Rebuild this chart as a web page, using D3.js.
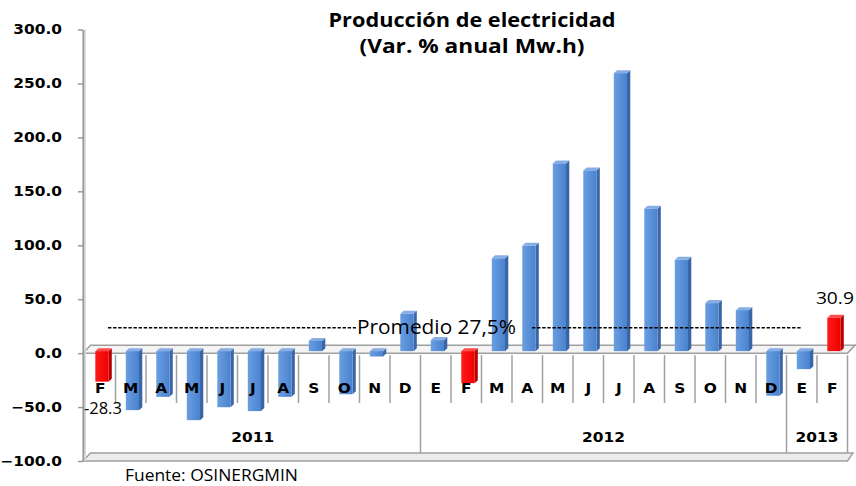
<!DOCTYPE html>
<html><head><meta charset="utf-8">
<script src="https://cdn.jsdelivr.net/npm/d3@7"></script>
<style>body{margin:0;background:#fff}svg{display:block}</style>
</head><body>
<svg id="c" width="856" height="486"></svg>
<script>
// ---- data ----
const months = ["F","M","A","M","J","J","A","S","O","N","D","E","F","M","A","M","J","J","A","S","O","N","D","E","F"];
const values = [-28.3,-54.7,-42.4,-64,-52,-55.6,-42.4,9.5,-40,-5,34.6,10.2,-29.7,86,97.6,174,167.5,257.7,132,84.6,44.5,38,-41.4,-16.7,30.9];
const redIdx = [0,12,24];
const yearLabels = ["2011","2012","2013"];
const yearCounts = [11,12,2];
const yTicks = [-100,-50,0,50,100,150,200,250,300];
const average = 27.5;
const averageLabel = "Promedio 27,5%";
const titleLines = ["Producción de electricidad","(Var. % anual Mw.h)"];
const labelled = [{i:0,text:"-28.3"},{i:24,text:"30.9"}];
const source = "Fuente: OSINERGMIN";

// ---- layout ----
const svg = d3.select("#c");
const SX = 1.1;               // horizontal stretch of the reference
const axisX = 83, plotL = 85, plotR = 847.5;
const y = d3.scaleLinear().domain([-100,300]).range([461,29.5]);
const x = d3.scaleBand().domain(d3.range(months.length)).range([plotL,plotR]).padding(0);
const depthX = 7.5, depthY = 8;     // floor depth
const bDX = 3.3, bDY = 3, bShift = 2; // bar 3D
const barOff = 10.3, barW = 13.2;
const grey = "#a0a0a0";

const defs = svg.append("defs");
const gb = defs.append("linearGradient").attr("id","gBlue");
gb.append("stop").attr("offset","0").attr("stop-color","#6a9ee2");
gb.append("stop").attr("offset","1").attr("stop-color","#4a82cd");
const gr = defs.append("linearGradient").attr("id","gRed");
gr.append("stop").attr("offset","0").attr("stop-color","#ff1a1a");
gr.append("stop").attr("offset","1").attr("stop-color","#f00000");

// title
titleLines.forEach((t,k)=>{
  svg.append("text").attr("x",472).attr("y",27+k*26).attr("text-anchor","middle")
    .attr("font-family","Open Sans").attr("font-weight","bold").attr("font-size",19.5)
    .attr("textLength",k===0?287:225).attr("lengthAdjust","spacingAndGlyphs").text(t);
});

// zero floor (category axis plane)
const y0 = y(0);
svg.append("path").attr("fill","#f4f4f4").attr("stroke",grey).attr("stroke-width",1.5)
  .attr("d",`M${axisX},${y0}L${plotR},${y0}L${plotR+depthX},${y0-depthY}L${axisX+depthX},${y0-depthY}Z`);
svg.append("line").attr("x1",plotR+depthX).attr("x2",856).attr("y1",y0-depthY).attr("y2",y0-depthY).attr("stroke",grey).attr("stroke-width",1.5);

// bottom floor
const yb = y(-100);
svg.append("path").attr("fill","#ececec").attr("stroke",grey).attr("stroke-width",1.5)
  .attr("d",`M${axisX},${yb}L${plotR},${yb}L${plotR+depthX-2},${yb-depthY}L${axisX+depthX},${yb-depthY}Z`);

// category dividers
const yearEdges = [0]; yearCounts.reduce((a,c)=>{yearEdges.push(a+c);return a+c;},0);
d3.range(months.length+1).forEach(i=>{
  const xx = plotL + i*x.bandwidth();
  const isYear = yearEdges.includes(i);
  svg.append("line").attr("x1",xx).attr("x2",xx).attr("y1",y0+2).attr("y2",isYear?yb-depthY:403)
    .attr("stroke",grey).attr("stroke-width",1.5);
});

// y axis
const ax = svg.append("g").attr("transform",`translate(${axisX},0)`)
  .call(d3.axisLeft(y).tickValues(yTicks).tickFormat(d3.format(".1f")).tickSize(5).tickSizeOuter(0));
ax.select(".domain").attr("stroke","#9a9a9a").attr("stroke-width",2.2);
ax.selectAll(".tick line").attr("stroke","#9a9a9a").attr("stroke-width",1.5);
ax.selectAll(".tick text").attr("x",-21/SX).attr("transform",`scale(${SX},1)`)
  .attr("font-family","DejaVu Sans").attr("font-weight","bold").attr("font-size",14).attr("fill","#000");
svg.append("line").attr("x1",axisX+2.2).attr("x2",axisX+2.2).attr("y1",y(300)).attr("y2",yb)
  .attr("stroke","#dcdcdc").attr("stroke-width",1.5);

// bars
const bars = svg.append("g");
values.forEach((v,i)=>{
  const red = redIdx.includes(i);
  const bx = x(i)+barOff;
  const yz = y(0)-bShift, yv = y(v)-bShift;
  const top = Math.min(yz,yv), bot = Math.max(yz,yv);
  const g = bars.append("g");
  g.append("path").attr("fill",red?"#b80000":"#3a66a8")
    .attr("d",`M${bx+barW},${top}L${bx+barW+bDX},${top-bDY}L${bx+barW+bDX},${bot-bDY}L${bx+barW},${bot}Z`);
  g.append("path").attr("fill",red?"#ff4a4a":"#86ade4")
    .attr("d",`M${bx},${top}L${bx+bDX},${top-bDY}L${bx+barW+bDX},${top-bDY}L${bx+barW},${top}Z`);
  g.append("rect").attr("x",bx).attr("y",top).attr("width",barW).attr("height",bot-top)
    .attr("fill",red?"url(#gRed)":"url(#gBlue)");
});

// month labels
months.forEach((m,i)=>{
  svg.append("text").attr("transform",`translate(${x(i)+x.bandwidth()/2},392.5) scale(${SX},1)`)
    .attr("text-anchor","middle").attr("font-family","DejaVu Sans").attr("font-weight","bold")
    .attr("font-size",14).text(m);
});
// year labels
yearLabels.forEach((t,k)=>{
  const cx = plotL + (yearEdges[k]+yearEdges[k+1])/2*x.bandwidth();
  svg.append("text").attr("transform",`translate(${cx},442) scale(${SX},1)`)
    .attr("text-anchor","middle").attr("font-family","DejaVu Sans").attr("font-weight","bold")
    .attr("font-size",14).text(t);
});

// data labels
labelled.forEach(d=>{
  const v = values[d.i];
  const cx = x(d.i)+barOff+barW/2+1;
  const yy = v<0 ? y(v)+30 : y(v)-16;
  svg.append("text").attr("x",cx).attr("y",yy).attr("text-anchor","middle")
    .attr("font-family","Open Sans").attr("font-size",17).attr("textLength",38)
    .attr("lengthAdjust","spacingAndGlyphs").text(d.text);
});

// average annotation
const ya = y(average)+4.3;
svg.append("line").attr("x1",108).attr("x2",356).attr("y1",ya).attr("y2",ya)
  .attr("stroke","#000").attr("stroke-width",1.4).attr("stroke-dasharray","3.4,1.7");
svg.append("line").attr("x1",532).attr("x2",801).attr("y1",ya).attr("y2",ya)
  .attr("stroke","#000").attr("stroke-width",1.4).attr("stroke-dasharray","3.4,1.7");
svg.append("text").attr("x",357).attr("y",ya+6.5).attr("font-family","Open Sans").attr("font-size",19.5)
  .attr("textLength",159).attr("lengthAdjust","spacingAndGlyphs").text(averageLabel);

// source
svg.append("text").attr("x",125).attr("y",480.5).attr("font-family","Open Sans").attr("font-size",15.5)
  .attr("textLength",173).attr("lengthAdjust","spacingAndGlyphs").text(source);
</script>
</body></html>
